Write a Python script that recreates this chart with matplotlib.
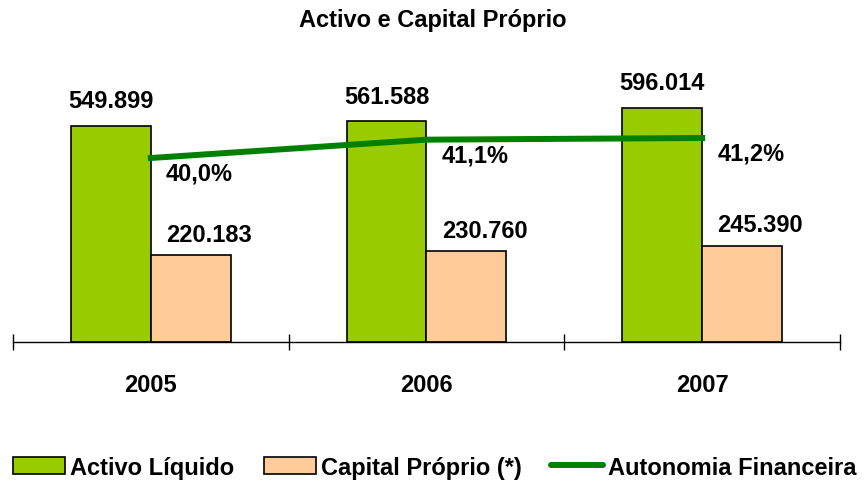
import numpy as np
import matplotlib
matplotlib.use("Agg")
import matplotlib.pyplot as plt
from matplotlib.patches import Patch
from matplotlib.lines import Line2D

plt.rcParams['font.family'] = ['Liberation Sans', 'DejaVu Sans']
plt.rcParams['font.weight'] = 'bold'

# dados
anos = ["2005", "2006", "2007"]
activo_liquido = [549899, 561588, 596014]
capital_proprio = [220183, 230760, 245390]
autonomia = [40.0, 41.1, 41.2]

activo_txt = ["549.899", "561.588", "596.014"]
capital_txt = ["220.183", "230.760", "245.390"]
autonomia_txt = ["40,0%", "41,1%", "41,2%"]

VERDE = "#99CC00"
PESSEGO = "#FFCC99"
LINHA = "#008000"
FS = 17

fig = plt.figure(figsize=(8.66, 4.85), dpi=100)
ax = fig.add_axes([13 / 866, (485 - 343) / 485, 827 / 866, 283 / 485])

x = np.arange(len(anos))
w = 0.29

ax.bar(x, activo_liquido, width=-w, align="edge", color=VERDE,
       edgecolor="black", linewidth=1.2, zorder=2)
ax.bar(x, capital_proprio, width=w, align="edge", color=PESSEGO,
       edgecolor="black", linewidth=1.2, zorder=2)

for i in range(len(anos)):
    ax.annotate(activo_txt[i], (x[i] - w / 2, activo_liquido[i]),
                xytext=(0, 18), textcoords="offset points",
                ha="center", va="center", fontsize=FS, fontweight="bold")
    ax.annotate(capital_txt[i], (x[i] + w / 2, capital_proprio[i]),
                xytext=(13, 15), textcoords="offset points",
                ha="center", va="center", fontsize=FS, fontweight="bold")

ax.set_xlim(-0.5, 2.5)
ax.set_ylim(0, 720000)

ax2 = ax.twinx()
ax2.plot(x, autonomia, color=LINHA, linewidth=4.3, zorder=3)
ax2.set_ylim(28.96, 45.94)
for i in range(len(anos)):
    ax2.annotate(autonomia_txt[i], (x[i], autonomia[i]),
                 xytext=(11, -11), textcoords="offset points",
                 ha="left", va="center", fontsize=FS, fontweight="bold")
ax2.set_yticks([])
for a in (ax, ax2):
    for s in ("left", "right", "top"):
        a.spines[s].set_visible(False)
ax2.spines["bottom"].set_visible(False)

ax.set_yticks([])
ax.spines["bottom"].set_linewidth(1.0)
ax.set_xticks(x)
ax.set_xticklabels(anos, fontsize=FS, fontweight="bold")
ax.tick_params(axis="x", which="major", length=0, pad=22)
ax.set_xticks([-0.5, 0.5, 1.5, 2.5], minor=True)
ax.tick_params(axis="x", which="minor", direction="inout", length=12, width=1.0)

fig.text(0.5, 1 - 20 / 485, "Activo e Capital Próprio", ha="center",
         va="center", fontsize=FS, fontweight="bold")

handles = [
    Patch(facecolor=VERDE, edgecolor="black", linewidth=1.2, label="Activo Líquido"),
    Patch(facecolor=PESSEGO, edgecolor="black", linewidth=1.2, label="Capital Próprio (*)"),
    Line2D([0], [0], color=LINHA, linewidth=4.3, solid_capstyle="round",
           label="Autonomia Financeira"),
]
fig.legend(handles=handles, loc="center", bbox_to_anchor=(0.502, 0.035), ncol=3,
           frameon=False, fontsize=FS, handlelength=2.2, handleheight=0.76,
           handletextpad=0.21, columnspacing=1.27, borderpad=0, borderaxespad=0)

fig.savefig("out.png", dpi=100)
